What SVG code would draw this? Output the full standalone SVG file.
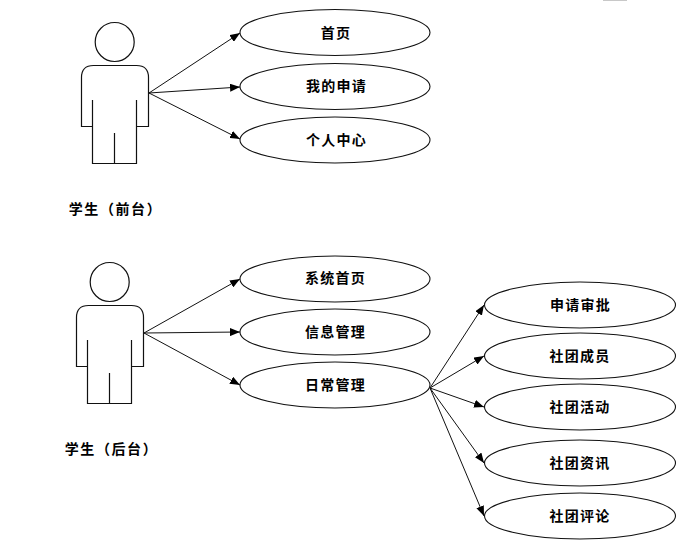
<svg xmlns="http://www.w3.org/2000/svg" width="680" height="544" viewBox="0 0 680 544">
<style>
.s{fill:none;stroke:#111;stroke-width:1.2}
.e{fill:#fff;stroke:#111;stroke-width:1.1}
.c{fill:none;stroke:#111;stroke-width:1;marker-end:url(#a)}
text{font-family:"Noto Sans CJK SC","Liberation Sans",sans-serif;font-size:14px;font-weight:700;fill:#000;letter-spacing:1.2px;text-anchor:middle;dominant-baseline:central}
.l{letter-spacing:1.6px}
</style>
<defs>
<marker id="a" viewBox="0 0 10 8" refX="10" refY="4" markerWidth="10" markerHeight="8" markerUnits="userSpaceOnUse" orient="auto"><path d="M0 0L10 4L0 8Z" fill="#000"/></marker>
<g id="person">
<circle class="s" cx="114.7" cy="42" r="19.5"/>
<path class="s" d="M92.5 126.5H81.5V77.5Q81.5 65.5 93.5 65.5H136.5Q148.5 65.5 148.5 77.5V126.5H136.5M92.5 100V163.5H136.5V100M114.5 133V163.5"/>
</g>
</defs>
<rect x="603" y="0" width="24" height="1" fill="#c8c8c8"/>
<g id="connectors">
<path class="c" d="M149 93L240 33"/>
<path class="c" d="M149 93L240 87"/>
<path class="c" d="M149 93L240 139"/>
<path class="c" d="M144 333L240 279"/>
<path class="c" d="M144 333L240 332"/>
<path class="c" d="M144 333L240 385"/>
<path class="c" d="M430 388L484 305"/>
<path class="c" d="M430 388L484 356"/>
<path class="c" d="M430 388L484 407"/>
<path class="c" d="M430 388L484 463"/>
<path class="c" d="M430 388L484 516"/>
</g>
<g id="actor-front"><use href="#person"/><text class="l" x="115.5" y="207.5">学生（前台）</text></g>
<g id="actor-back"><use href="#person" x="-5" y="240"/><text class="l" x="111.5" y="448">学生（后台）</text></g>
<g id="n1"><ellipse class="e" cx="335" cy="32.5" rx="95" ry="23"/><text x="336" y="32">首页</text></g>
<g id="n2"><ellipse class="e" cx="335" cy="86.5" rx="95" ry="23"/><text x="336.5" y="85">我的申请</text></g>
<g id="n3"><ellipse class="e" cx="335" cy="140" rx="95" ry="23"/><text x="336.5" y="139">个人中心</text></g>
<g id="n4"><ellipse class="e" cx="335" cy="279" rx="95" ry="23"/><text x="335.5" y="277">系统首页</text></g>
<g id="n5"><ellipse class="e" cx="335" cy="332" rx="95" ry="23"/><text x="335.5" y="331">信息管理</text></g>
<g id="n6"><ellipse class="e" cx="335" cy="385" rx="95" ry="23"/><text x="335.5" y="384">日常管理</text></g>
<g id="n7"><ellipse class="e" cx="580" cy="305" rx="95.5" ry="23"/><text x="580.5" y="304">申请审批</text></g>
<g id="n8"><ellipse class="e" cx="580" cy="356" rx="95.5" ry="23"/><text x="580" y="355">社团成员</text></g>
<g id="n9"><ellipse class="e" cx="580" cy="407" rx="95.5" ry="23"/><text x="580" y="406">社团活动</text></g>
<g id="n10"><ellipse class="e" cx="580" cy="463" rx="95.5" ry="23"/><text x="580" y="462">社团资讯</text></g>
<g id="n11"><ellipse class="e" cx="580" cy="516" rx="95.5" ry="23"/><text x="580" y="515">社团评论</text></g>
</svg>
